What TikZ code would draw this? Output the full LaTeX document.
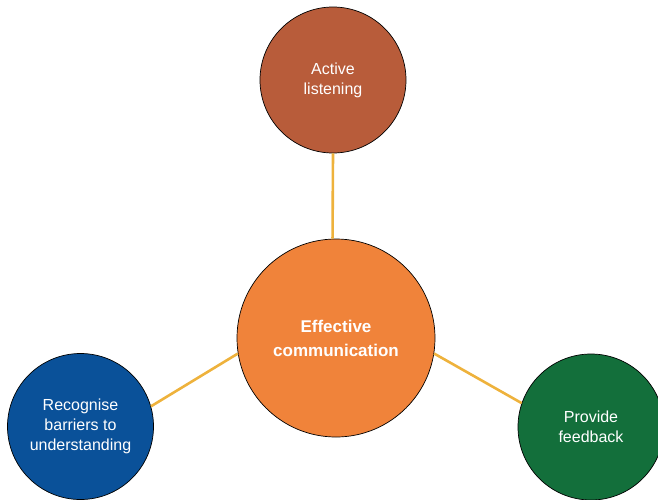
\documentclass[tikz,border=0pt]{standalone}
\usepackage{fontspec}
\setmainfont{Liberation Sans}
\definecolor{hubfill}{RGB}{240,131,58}
\definecolor{topfill}{RGB}{184,92,58}
\definecolor{leftfill}{RGB}{10,81,153}
\definecolor{rightfill}{RGB}{19,111,59}
\definecolor{spoke}{RGB}{238,178,60}
\begin{document}
\begin{tikzpicture}[x=1pt,y=-1pt,
  bubble/.style={circle,draw=black,line width=0.7pt,inner sep=0pt,align=center,text=white,
    font=\fontsize{16}{20}\selectfont},
  hub/.style={bubble,minimum size=198pt,fill=hubfill,font=\fontsize{17}{24}\selectfont\bfseries},
  sat/.style={bubble,minimum size=146pt},
  spokeline/.style={draw=spoke,line width=2.6pt}]
\useasboundingbox (0,0) rectangle (658,499);
\node[hub] (hub) at (336,338) {Effective\\communication};
\node[sat,fill=topfill] (top) at (333,80) {Active\\listening};
\node[sat,fill=leftfill] (left) at (80.5,426.5) {Recognise\\barriers to\\understanding};
\node[sat,fill=rightfill] (right) at (591,427) {Provide\\feedback};
\draw[spokeline] (top.270) -- (hub.92);
\draw[spokeline] (left.16.8) -- (hub.189.7);
\draw[spokeline] (hub.351.4) -- (right.161.6);
\end{tikzpicture}
\end{document}
